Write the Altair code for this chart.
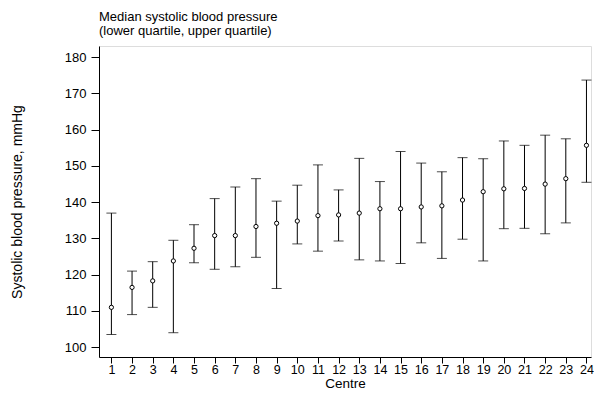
import altair as alt
import pandas as pd

centre = list(range(1, 25))
median = [111.0, 116.5, 118.3, 123.8, 127.3, 130.8, 130.8, 133.3, 134.2, 134.8, 136.3, 136.5,
          137.0, 138.2, 138.2, 138.7, 139.0, 140.6, 142.9, 143.7, 143.8, 145.0, 146.5, 155.7]
lower = [103.5, 109.0, 111.0, 104.0, 123.3, 121.5, 122.2, 124.8, 116.2, 128.5, 126.5, 129.3,
         124.1, 123.8, 123.1, 128.8, 124.5, 129.8, 123.8, 132.7, 132.8, 131.3, 134.3, 145.5]
upper = [137.0, 121.0, 123.6, 129.5, 133.8, 141.0, 144.2, 146.5, 140.3, 144.7, 150.3, 143.4,
         152.1, 145.7, 154.0, 150.8, 148.4, 152.3, 152.0, 156.9, 155.7, 158.5, 157.5, 173.7]
y_ticks = [100, 110, 120, 130, 140, 150, 160, 170, 180]

df = pd.DataFrame({"centre": centre, "median": median, "lower": lower, "upper": upper})

FONT = "Liberation Sans"
ink = "#000000"
W, H = 492, 311

xscale = alt.Scale(domain=[0.4, 24.22], nice=False, zero=False)
yscale = alt.Scale(domain=[97.3, 183.1], nice=False, zero=False)

xaxis = alt.Axis(values=centre, title="Centre", grid=False, tickSize=6, labelPadding=0,
                 labelFontSize=12.5, titleFontSize=13.5, titleFontWeight="normal",
                 labelFont=FONT, titleFont=FONT, labelColor=ink, titleColor=ink,
                 domainColor=ink, tickColor=ink, titleY=30.5, titleBaseline="alphabetic",
                 labelFlush=False, labelOverlap=False)
yaxis = alt.Axis(values=y_ticks,
                 title="Systolic blood pressure, mmHg", grid=False, tickSize=8, labelPadding=5,
                 labelFontSize=13, titleFontSize=14, titleFontWeight="normal",
                 labelFont=FONT, titleFont=FONT, labelColor=ink, titleColor=ink,
                 domainColor=ink, tickColor=ink, titleX=-82, titleY=H / 2,
                 titleAngle=-90, titleAlign="center", titleBaseline="middle",
                 labelFlush=False, labelOverlap=False)

base = alt.Chart(df)

bars = base.mark_rule(color=ink, strokeWidth=1).encode(
    x=alt.X("centre:Q", scale=xscale, axis=xaxis),
    y=alt.Y("lower:Q", scale=yscale, axis=yaxis),
    y2="upper:Q",
)
cap_lo = base.mark_tick(color=ink, thickness=1, size=10, orient="horizontal").encode(
    x=alt.X("centre:Q", scale=xscale, axis=xaxis),
    y=alt.Y("lower:Q", scale=yscale, axis=yaxis),
)
cap_hi = base.mark_tick(color=ink, thickness=1, size=10, orient="horizontal").encode(
    x=alt.X("centre:Q", scale=xscale, axis=xaxis),
    y=alt.Y("upper:Q", scale=yscale, axis=yaxis),
)
pts = base.mark_point(shape="circle", size=18, filled=False, fill="white", fillOpacity=1,
                      stroke=ink, strokeWidth=1, opacity=1).encode(
    x=alt.X("centre:Q", scale=xscale, axis=xaxis),
    y=alt.Y("median:Q", scale=yscale, axis=yaxis),
)

chart = alt.layer(bars, cap_lo, cap_hi, pts).properties(
    width=W, height=H,
    autosize=alt.AutoSizeParams(type="none"),
    padding={"left": 91, "top": 38, "right": 3, "bottom": 34},
    title=alt.TitleParams(
        text=["Median systolic blood pressure", "(lower quartile, upper quartile)"],
        anchor="start", frame="group", font=FONT, fontSize=13, fontWeight="normal",
        color=ink, lineHeight=14, offset=8,
    ),
).configure_view(stroke=None).configure_axis(labelOverlap=False).configure(background="white")

chart.save("out.html", embed_options={"renderer": "svg", "actions": False})
